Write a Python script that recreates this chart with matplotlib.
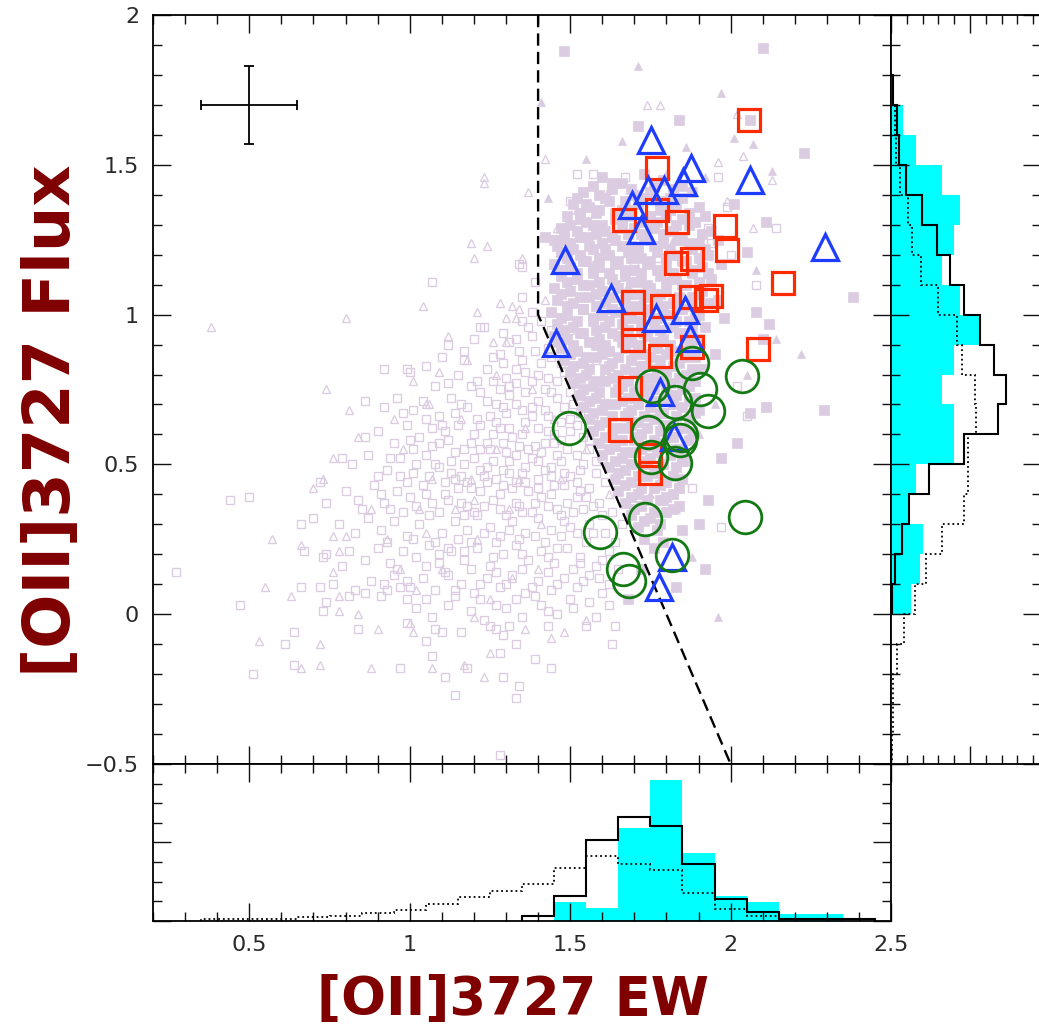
import numpy as np
import matplotlib
matplotlib.use("Agg")
import matplotlib.pyplot as plt
from matplotlib.ticker import MultipleLocator, FuncFormatter, NullFormatter

# === DATA ===
# background sample, open squares (EW, Flux)
open_sq = [
    (0.27, 0.14), (0.44, 0.38), (0.50, 0.39), (0.47, 0.03), (0.66, 0.09), (0.61, -0.10), (0.64, -0.06),
    (0.51, -0.20), (0.64, -0.17), (0.72, 0.44), (0.79, 0.52), (0.86, 0.71), (0.92, 0.82), (0.92, 0.69),
    (0.86, 0.59), (0.74, 0.37), (0.70, 0.32), (0.66, 0.30), (0.67, 0.21), (0.73, 0.19), (0.74, 0.20),
    (0.79, 0.16), (0.76, 0.10), (0.72, 0.09), (0.74, 0.04), (0.73, 0.01), (0.81, 0.06), (0.83, 0.08),
    (0.84, -0.05), (0.86, 0.07), (0.91, 0.06), (0.92, 0.10), (0.97, 0.09), (0.99, 0.11), (0.99, 0.05),
    (0.99, -0.03), (0.97, -0.18), (1.05, -0.09), (1.07, -0.14), (1.11, -0.21), (1.10, -0.06), (1.16, -0.06),
    (1.14, -0.27), (1.18, -0.18), (1.29, -0.21), (1.34, -0.24), (1.33, -0.28), (1.28, -0.13), (1.28, -0.47),
    (1.39, -0.15), (1.27, -0.05), (1.33, -0.10), (1.29, -0.07), (1.44, -0.18), (1.63, -0.10), (1.64, -0.04),
    (1.25, -0.04), (1.31, -0.04), (1.43, -0.04), (1.55, -0.04), (1.08, -0.05), (0.93, 0.08),
    (1.22, 0.96), (1.23, 0.96), (1.29, 0.94), (1.28, 0.87), (1.17, 0.85), (0.99, 0.82), (1.00, 0.81),
    (1.12, 0.77), (1.04, 0.71), (1.10, 0.63), (1.07, 1.11), (1.39, 1.11), (1.35, 1.06), (1.34, 1.17),
    (1.35, 1.16), (1.35, 0.98), (1.35, 0.85), (1.52, 1.47), (1.57, 1.47), (1.67, 1.46), (1.96, 1.46),
    (1.50, 1.38), (1.99, 1.36), (1.93, 1.29), (2.14, 1.29), (1.70, 1.18), (1.77, 1.19), (1.94, 1.24),
    (2.00, 1.20), (2.08, 1.10), (1.93, 1.11), (1.84, 0.42), (1.88, 0.42), (1.97, 0.29), (2.02, 0.76),
    (2.05, 0.66),
    (1.12, 0.90), (1.20, 0.92), (1.31, 0.91), (1.38, 0.93), (1.43, 0.89),
    (1.05, 0.83), (1.15, 0.80), (1.24, 0.82), (1.30, 0.79), (1.36, 0.81), (1.41, 0.84), (1.46, 0.78), (1.19, 0.76),
    (0.96, 0.72), (1.01, 0.68), (1.13, 0.72), (1.18, 0.69), (1.22, 0.74), (1.27, 0.70), (1.31, 0.73),
    (1.35, 0.68), (1.40, 0.71), (1.44, 0.74), (1.48, 0.69), (1.25, 0.66), (1.09, 0.66),
    (0.90, 0.61), (0.95, 0.57), (0.99, 0.63), (1.03, 0.59), (1.07, 0.62), (1.12, 0.58), (1.15, 0.63),
    (1.20, 0.60), (1.24, 0.57), (1.28, 0.62), (1.32, 0.59), (1.36, 0.64), (1.39, 0.56), (1.43, 0.61),
    (1.47, 0.58), (1.52, 0.63), (1.17, 0.55), (1.30, 0.54),
    (0.82, 0.50), (0.87, 0.53), (0.93, 0.48), (0.97, 0.52), (1.01, 0.47), (1.05, 0.53), (1.09, 0.49),
    (1.13, 0.51), (1.16, 0.46), (1.20, 0.52), (1.24, 0.49), (1.27, 0.45), (1.31, 0.51), (1.35, 0.47),
    (1.38, 0.52), (1.42, 0.48), (1.46, 0.53), (1.50, 0.46), (1.54, 0.50), (1.11, 0.44),
    (0.80, 0.41), (0.84, 0.38), (0.89, 0.43), (0.92, 0.37), (0.96, 0.41), (1.00, 0.39), (1.04, 0.43),
    (1.07, 0.37), (1.11, 0.40), (1.15, 0.42), (1.18, 0.36), (1.22, 0.41), (1.26, 0.38), (1.29, 0.43),
    (1.33, 0.37), (1.37, 0.41), (1.41, 0.39), (1.45, 0.43), (1.49, 0.37), (1.53, 0.41), (1.57, 0.36),
    (0.98, 0.34),
    (0.78, 0.30), (0.83, 0.27), (0.87, 0.32), (0.91, 0.28), (0.95, 0.31), (0.99, 0.26), (1.03, 0.30),
    (1.06, 0.33), (1.10, 0.27), (1.14, 0.31), (1.18, 0.28), (1.21, 0.33), (1.25, 0.29), (1.28, 0.26),
    (1.32, 0.31), (1.36, 0.27), (1.40, 0.32), (1.44, 0.28), (1.48, 0.31), (1.52, 0.27), (1.56, 0.30),
    (1.60, 0.33),
    (0.81, 0.21), (0.86, 0.18), (0.90, 0.22), (0.94, 0.17), (0.98, 0.21), (1.02, 0.19), (1.06, 0.23),
    (1.09, 0.17), (1.13, 0.21), (1.17, 0.18), (1.21, 0.22), (1.25, 0.16), (1.29, 0.20), (1.33, 0.23),
    (1.37, 0.18), (1.41, 0.21), (1.45, 0.17), (1.49, 0.22), (1.53, 0.19), (1.58, 0.16), (1.62, 0.21),
    (0.88, 0.11), (0.95, 0.13), (1.00, 0.09), (1.04, 0.12), (1.08, 0.08), (1.12, 0.13), (1.16, 0.10),
    (1.20, 0.07), (1.24, 0.12), (1.28, 0.09), (1.32, 0.13), (1.36, 0.07), (1.40, 0.11), (1.44, 0.08),
    (1.48, 0.12), (1.52, 0.09), (1.56, 0.13), (1.60, 0.07),
    (1.02, 0.02), (1.07, -0.01), (1.12, 0.03), (1.19, 0.01), (1.23, -0.02), (1.30, 0.02), (1.35, -0.01),
    (1.41, 0.03), (1.46, 0.00), (1.51, 0.02), (1.58, -0.01),
    (1.10, 0.86), (1.17, 0.88), (1.26, 0.86), (1.34, 0.88), (1.40, 0.80), (1.47, 0.84), (1.08, 0.76),
    (1.21, 0.78), (1.28, 0.75), (1.33, 0.77), (1.50, 0.74), (1.55, 0.70),
    (0.98, 0.67), (1.05, 0.65), (1.14, 0.67), (1.21, 0.65), (1.30, 0.67), (1.38, 0.66), (1.42, 0.68),
    (1.50, 0.65), (1.57, 0.66),
    (1.01, 0.55), (1.09, 0.57), (1.14, 0.54), (1.22, 0.55), (1.26, 0.60), (1.34, 0.56), (1.41, 0.54),
    (1.45, 0.57), (1.49, 0.55), (1.56, 0.58), (1.60, 0.52),
    (0.90, 0.46), (0.99, 0.44), (1.06, 0.46), (1.13, 0.47), (1.18, 0.44), (1.23, 0.46), (1.29, 0.48),
    (1.33, 0.44), (1.40, 0.45), (1.44, 0.46), (1.52, 0.44), (1.58, 0.47),
    (0.85, 0.35), (0.94, 0.35), (1.02, 0.36), (1.09, 0.34), (1.16, 0.37), (1.20, 0.34), (1.28, 0.35),
    (1.35, 0.34), (1.39, 0.37), (1.46, 0.35), (1.51, 0.34), (1.55, 0.39),
    (0.93, 0.24), (1.01, 0.25), (1.08, 0.24), (1.15, 0.25), (1.19, 0.24), (1.27, 0.24), (1.34, 0.25),
    (1.42, 0.24), (1.47, 0.26), (1.55, 0.24), (1.61, 0.27),
    (0.96, 0.15), (1.05, 0.16), (1.11, 0.14), (1.19, 0.15), (1.27, 0.14), (1.35, 0.15), (1.43, 0.14),
    (1.51, 0.15), (1.59, 0.12),
    (1.05, 0.05), (1.14, 0.06), (1.22, 0.05), (1.33, 0.05), (1.39, 0.06), (1.50, 0.05), (1.56, 0.04),
]

# denser part of the open-square cloud, left of the cut
open_sq_core = [
    (1.37, 0.96), (1.41, 0.98), (1.33, 0.92), (1.39, 0.88), (1.44, 0.86), (1.29, 0.84), (1.33, 0.82),
    (1.38, 0.78), (1.43, 0.79), (1.48, 0.81), (1.26, 0.78), (1.31, 0.76), (1.36, 0.74), (1.42, 0.75),
    (1.46, 0.72), (1.51, 0.70), (1.24, 0.71), (1.29, 0.69), (1.33, 0.70), (1.38, 0.69), (1.43, 0.66),
    (1.47, 0.64), (1.53, 0.67), (1.22, 0.63), (1.27, 0.64), (1.31, 0.62), (1.35, 0.60), (1.40, 0.62),
    (1.45, 0.60), (1.50, 0.61), (1.54, 0.59), (1.19, 0.57), (1.25, 0.55), (1.29, 0.57), (1.33, 0.53),
    (1.37, 0.55), (1.42, 0.57), (1.47, 0.51), (1.52, 0.53), (1.56, 0.55), (1.17, 0.50), (1.22, 0.48),
    (1.26, 0.51), (1.31, 0.47), (1.36, 0.49), (1.40, 0.51), (1.44, 0.49), (1.48, 0.47), (1.53, 0.48),
    (1.58, 0.51), (1.14, 0.45), (1.19, 0.42), (1.24, 0.44), (1.28, 0.40), (1.32, 0.42), (1.36, 0.44),
    (1.40, 0.42), (1.44, 0.40), (1.48, 0.43), (1.52, 0.39), (1.56, 0.42), (1.61, 0.44), (1.12, 0.38),
    (1.17, 0.33), (1.23, 0.36), (1.30, 0.33), (1.34, 0.36), (1.38, 0.34), (1.43, 0.36), (1.47, 0.33),
    (1.54, 0.35), (1.59, 0.37), (1.63, 0.34), (1.05, 0.40), (1.02, 0.50), (1.07, 0.56), (1.11, 0.61),
    (1.16, 0.70), (1.08, 0.50), (1.00, 0.58), (0.94, 0.52), (0.97, 0.46), (0.91, 0.40), (1.12, 0.22),
    (1.23, 0.27), (1.31, 0.28), (1.39, 0.26), (1.46, 0.22), (1.50, 0.29), (1.57, 0.27), (1.64, 0.24),
    (1.66, 0.30), (1.35, 0.20), (1.26, 0.19), (1.17, 0.21), (1.09, 0.20), (1.43, 0.19), (1.53, 0.17),
    (1.60, 0.18), (1.65, 0.15), (1.30, 0.10), (1.38, 0.09), (1.46, 0.10), (1.54, 0.11), (1.62, 0.10),
    (1.22, 0.10), (1.14, 0.08), (1.27, 0.03), (1.43, 0.01), (1.62, 0.03), (1.38, 1.01), (1.44, 0.95),
    (1.47, 0.91),
]

# background sample, open triangles
open_tri = [
    (0.38, 0.96), (0.57, 0.25), (0.55, 0.09), (0.63, 0.06), (0.53, -0.09), (0.66, -0.18), (0.72, -0.17),
    (0.72, -0.10), (0.74, 0.75), (0.80, 0.99), (0.81, 0.68), (0.95, 0.65), (0.84, 0.59), (0.76, 0.52),
    (0.70, 0.42), (0.73, 0.45), (0.66, 0.23), (0.76, 0.26), (0.80, 0.26), (0.78, 0.21), (0.76, 0.14),
    (0.78, 0.06), (0.78, 0.01), (0.84, 0.00), (0.90, -0.05), (1.02, 0.08), (1.01, -0.06), (0.88, -0.18),
    (1.07, -0.18), (1.20, -0.01), (1.23, -0.21), (1.17, -0.17), (1.25, -0.13), (1.36, -0.05), (1.44, -0.08),
    (1.48, -0.06), (1.55, -0.02), (1.00, -0.03),
    (1.04, 1.03), (1.21, 1.01), (1.26, 0.91), (1.30, 0.91), (1.18, 0.85), (1.01, 0.78), (1.09, 0.81),
    (1.05, 0.70), (1.06, 0.70), (1.23, 1.46), (1.23, 1.44), (1.37, 1.41), (1.19, 1.24), (1.24, 1.23),
    (1.20, 1.19), (1.35, 1.19), (1.28, 1.04), (1.32, 1.03), (1.34, 1.02), (1.30, 0.99), (1.33, 0.99),
    (1.42, 1.52), (1.74, 1.70), (1.78, 1.70), (2.02, 1.67), (2.04, 1.53), (1.96, 1.51), (2.13, 1.45),
    (1.99, 1.38), (1.46, 1.29), (1.56, 1.26), (2.07, 1.29), (1.52, 1.35),
    (0.98, 0.55), (1.07, 0.45), (1.14, 0.35), (1.21, 0.25), (1.27, 0.55), (1.34, 0.45), (1.40, 0.15),
    (0.93, 0.25), (1.10, 0.15), (1.31, 0.35), (1.45, 0.65), (1.38, 0.75), (1.16, 0.65), (1.03, 0.35),
    (0.88, 0.35), (1.25, 0.05), (1.47, 0.45), (1.55, 0.55), (1.58, 0.85), (1.50, 0.95), (0.97, 0.15),
    (1.19, 0.45), (1.60, 0.72), (1.62, 0.40), (1.42, 1.05), (1.48, 1.15), (1.54, 1.20),
    (1.12, 0.93), (1.27, 0.80), (1.36, 0.62), (1.20, 0.38), (1.05, 0.27), (1.41, 0.30), (1.32, 0.12),
]

# selected sample (filled squares), outer points
sel_sq = [
    (1.48, 1.88), (2.10, 1.89), (1.84, 1.65), (1.71, 1.63), (2.06, 1.65), (2.23, 1.54), (1.55, 1.37),
    (2.01, 1.37), (2.11, 1.31), (1.42, 1.26), (1.47, 1.25), (2.38, 1.06), (2.08, 1.01), (2.12, 0.97),
    (2.10, 0.92), (2.11, 0.69), (2.06, 0.67), (2.29, 0.68), (1.97, 0.52), (1.93, 0.38), (1.85, 0.28),
    (1.79, 0.38), (1.79, 0.44), (1.83, 0.09), (2.05, 1.21), (1.98, 0.99), (1.95, 0.87), (2.02, 0.57),
    (1.90, 0.30), (1.72, 0.15), (1.68, 0.05), (1.76, 0.22), (1.96, 1.05), (1.92, 0.15),
]

# selected sample (filled squares), dense core
sel_sq_core = [
    (1.60, 1.46), (1.66, 1.44), (1.73, 1.47), (1.79, 1.45), (1.85, 1.43),
    (1.54, 1.41), (1.59, 1.40), (1.63, 1.42), (1.70, 1.40), (1.75, 1.41), (1.81, 1.39), (1.88, 1.41),
    (1.51, 1.37), (1.56, 1.36), (1.62, 1.38), (1.66, 1.35), (1.71, 1.37), (1.78, 1.35), (1.83, 1.37), (1.90, 1.36),
    (1.49, 1.33), (1.53, 1.32), (1.58, 1.34), (1.64, 1.32), (1.68, 1.33), (1.73, 1.31), (1.80, 1.33),
    (1.85, 1.32), (1.92, 1.33),
    (1.47, 1.29), (1.52, 1.28), (1.57, 1.30), (1.61, 1.28), (1.66, 1.29), (1.72, 1.27), (1.76, 1.29),
    (1.82, 1.28), (1.87, 1.30), (1.94, 1.28),
    (1.45, 1.25), (1.50, 1.24), (1.55, 1.26), (1.60, 1.24), (1.64, 1.25), (1.69, 1.23), (1.74, 1.25),
    (1.79, 1.24), (1.85, 1.26), (1.90, 1.24), (1.96, 1.25),
    (1.47, 1.21), (1.53, 1.20), (1.57, 1.22), (1.62, 1.20), (1.68, 1.21), (1.72, 1.19), (1.77, 1.21),
    (1.83, 1.20), (1.88, 1.22), (1.93, 1.20),
    (1.45, 1.17), (1.50, 1.16), (1.55, 1.18), (1.59, 1.16), (1.64, 1.17), (1.70, 1.15), (1.74, 1.17),
    (1.80, 1.16), (1.85, 1.18), (1.91, 1.16), (1.97, 1.17),
    (1.47, 1.13), (1.52, 1.12), (1.57, 1.14), (1.63, 1.12), (1.67, 1.13), (1.72, 1.11), (1.78, 1.13),
    (1.83, 1.12), (1.88, 1.14), (1.94, 1.12),
    (1.45, 1.09), (1.50, 1.08), (1.56, 1.10), (1.60, 1.08), (1.65, 1.09), (1.71, 1.07), (1.75, 1.09),
    (1.80, 1.08), (1.86, 1.10), (1.91, 1.08),
    (1.46, 1.05), (1.51, 1.04), (1.56, 1.06), (1.61, 1.04), (1.67, 1.05), (1.71, 1.03), (1.77, 1.05),
    (1.82, 1.04), (1.88, 1.06), (1.93, 1.04),
    (1.44, 1.01), (1.49, 1.00), (1.54, 1.02), (1.60, 1.00), (1.64, 1.01), (1.69, 0.99), (1.74, 1.01),
    (1.80, 1.00), (1.85, 1.02), (1.90, 1.00),
    (1.46, 0.97), (1.51, 0.96), (1.57, 0.98), (1.61, 0.96), (1.66, 0.97), (1.72, 0.95), (1.76, 0.97),
    (1.82, 0.96), (1.87, 0.98), (1.92, 0.96),
    (1.45, 0.93), (1.49, 0.92), (1.54, 0.94), (1.59, 0.92), (1.65, 0.93), (1.69, 0.91), (1.74, 0.93),
    (1.79, 0.92), (1.85, 0.94), (1.90, 0.92),
    (1.47, 0.89), (1.52, 0.88), (1.58, 0.90), (1.62, 0.88), (1.67, 0.89), (1.73, 0.87), (1.77, 0.89),
    (1.83, 0.88), (1.88, 0.90),
    (1.48, 0.85), (1.54, 0.84), (1.58, 0.86), (1.63, 0.84), (1.69, 0.85), (1.73, 0.83), (1.78, 0.85),
    (1.84, 0.84), (1.89, 0.86),
    (1.50, 0.81), (1.55, 0.80), (1.61, 0.82), (1.65, 0.80), (1.70, 0.81), (1.76, 0.79), (1.80, 0.81),
    (1.86, 0.80), (1.91, 0.82),
    (1.51, 0.77), (1.57, 0.76), (1.61, 0.78), (1.66, 0.76), (1.72, 0.77), (1.76, 0.75), (1.81, 0.77),
    (1.87, 0.76),
    (1.53, 0.73), (1.58, 0.72), (1.64, 0.74), (1.68, 0.72), (1.73, 0.73), (1.79, 0.71), (1.83, 0.73),
    (1.89, 0.72),
    (1.54, 0.69), (1.60, 0.68), (1.64, 0.70), (1.69, 0.68), (1.75, 0.69), (1.79, 0.67), (1.85, 0.69),
    (1.90, 0.68),
    (1.56, 0.65), (1.61, 0.64), (1.67, 0.66), (1.71, 0.64), (1.76, 0.65), (1.82, 0.63), (1.87, 0.65),
    (1.57, 0.61), (1.63, 0.60), (1.67, 0.62), (1.72, 0.60), (1.78, 0.61), (1.82, 0.59), (1.88, 0.61),
    (1.59, 0.57), (1.64, 0.56), (1.70, 0.58), (1.74, 0.56), (1.79, 0.57), (1.85, 0.55),
    (1.60, 0.53), (1.66, 0.52), (1.70, 0.54), (1.75, 0.52), (1.81, 0.53), (1.86, 0.51),
    (1.62, 0.49), (1.67, 0.48), (1.73, 0.50), (1.77, 0.48), (1.83, 0.49),
    (1.64, 0.45), (1.69, 0.44), (1.74, 0.46), (1.80, 0.44), (1.85, 0.45),
    (1.65, 0.41), (1.71, 0.40), (1.76, 0.42), (1.82, 0.40),
    (1.67, 0.37), (1.72, 0.36), (1.78, 0.38), (1.84, 0.36),
    (1.69, 0.33), (1.75, 0.32), (1.80, 0.34),
    (1.71, 0.29), (1.77, 0.28), (1.73, 0.25), (1.79, 0.24),
    # second layer, between the rows above
    (1.57, 1.43), (1.63, 1.44), (1.69, 1.42), (1.76, 1.43), (1.82, 1.42),
    (1.52, 1.39), (1.61, 1.39), (1.67, 1.38), (1.72, 1.39), (1.78, 1.38), (1.85, 1.39),
    (1.53, 1.34), (1.59, 1.35), (1.64, 1.34), (1.69, 1.35), (1.75, 1.33), (1.81, 1.35), (1.87, 1.34),
    (1.50, 1.30), (1.55, 1.31), (1.60, 1.30), (1.66, 1.31), (1.70, 1.29), (1.77, 1.31), (1.83, 1.30), (1.89, 1.31),
    (1.48, 1.27), (1.53, 1.26), (1.58, 1.27), (1.63, 1.26), (1.68, 1.27), (1.73, 1.26), (1.79, 1.27),
    (1.84, 1.25), (1.91, 1.27),
    (1.46, 1.23), (1.51, 1.22), (1.56, 1.23), (1.61, 1.22), (1.66, 1.23), (1.71, 1.22), (1.76, 1.23),
    (1.81, 1.22), (1.87, 1.24), (1.92, 1.22),
    (1.49, 1.19), (1.54, 1.18), (1.59, 1.19), (1.65, 1.18), (1.69, 1.19), (1.75, 1.18), (1.80, 1.19),
    (1.86, 1.18), (1.90, 1.19),
    (1.47, 1.15), (1.52, 1.14), (1.57, 1.15), (1.62, 1.14), (1.67, 1.15), (1.72, 1.14), (1.77, 1.15),
    (1.82, 1.14), (1.88, 1.15), (1.93, 1.14),
    (1.49, 1.11), (1.54, 1.10), (1.59, 1.11), (1.64, 1.10), (1.69, 1.11), (1.74, 1.10), (1.80, 1.11),
    (1.85, 1.10), (1.90, 1.11),
    (1.47, 1.07), (1.53, 1.06), (1.58, 1.07), (1.63, 1.06), (1.68, 1.07), (1.73, 1.06), (1.78, 1.07),
    (1.84, 1.06), (1.90, 1.07),
    (1.49, 1.03), (1.54, 1.02), (1.58, 1.03), (1.63, 1.02), (1.68, 1.03), (1.74, 1.02), (1.79, 1.03),
    (1.84, 1.02), (1.88, 1.03),
    (1.47, 0.99), (1.52, 0.98), (1.57, 0.99), (1.62, 0.98), (1.67, 0.99), (1.72, 0.98), (1.77, 0.99),
    (1.83, 0.98), (1.89, 0.99),
    (1.48, 0.95), (1.53, 0.94), (1.58, 0.95), (1.63, 0.94), (1.68, 0.95), (1.73, 0.94), (1.78, 0.95),
    (1.84, 0.94), (1.88, 0.95),
    (1.46, 0.91), (1.51, 0.90), (1.56, 0.91), (1.61, 0.90), (1.66, 0.91), (1.71, 0.90), (1.76, 0.91),
    (1.81, 0.90), (1.87, 0.91),
    (1.50, 0.87), (1.55, 0.86), (1.60, 0.87), (1.65, 0.86), (1.70, 0.87), (1.75, 0.86), (1.80, 0.87), (1.86, 0.86),
    (1.51, 0.83), (1.56, 0.82), (1.62, 0.83), (1.67, 0.82), (1.72, 0.83), (1.77, 0.82), (1.82, 0.83), (1.88, 0.82),
    (1.53, 0.79), (1.58, 0.78), (1.63, 0.79), (1.68, 0.78), (1.73, 0.79), (1.78, 0.78), (1.84, 0.79), (1.89, 0.78),
    (1.54, 0.75), (1.59, 0.74), (1.65, 0.75), (1.70, 0.74), (1.74, 0.75), (1.80, 0.74), (1.85, 0.75),
    (1.56, 0.71), (1.61, 0.70), (1.66, 0.71), (1.71, 0.70), (1.77, 0.71), (1.82, 0.70), (1.87, 0.71),
    (1.57, 0.67), (1.63, 0.66), (1.68, 0.67), (1.73, 0.66), (1.78, 0.67), (1.83, 0.66), (1.89, 0.67),
    (1.59, 0.63), (1.64, 0.62), (1.69, 0.63), (1.74, 0.62), (1.79, 0.63), (1.85, 0.62),
    (1.61, 0.59), (1.66, 0.58), (1.71, 0.59), (1.76, 0.58), (1.81, 0.59), (1.87, 0.58),
    (1.62, 0.55), (1.67, 0.54), (1.72, 0.55), (1.77, 0.54), (1.83, 0.55),
    (1.64, 0.51), (1.69, 0.50), (1.74, 0.51), (1.79, 0.50), (1.85, 0.51),
    (1.65, 0.47), (1.71, 0.46), (1.76, 0.47), (1.82, 0.46),
    (1.67, 0.43), (1.72, 0.42), (1.78, 0.43), (1.84, 0.42),
    (1.69, 0.39), (1.74, 0.38), (1.80, 0.39),
    (1.70, 0.35), (1.76, 0.34), (1.82, 0.35),
    (1.73, 0.31), (1.78, 0.30),
]

# selected sample (filled triangles)
sel_tri = [
    (1.71, 1.83), (1.97, 1.74), (1.41, 1.71), (1.66, 1.58), (1.86, 1.56), (2.01, 1.59), (2.07, 1.57),
    (2.13, 1.48), (1.92, 1.46), (1.43, 1.39), (2.08, 1.15), (2.14, 0.92), (1.83, 0.35), (1.96, -0.01),
    (1.80, 1.47), (1.62, 1.42), (1.72, 0.95), (1.60, 0.80), (1.82, 1.25), (1.68, 1.10), (1.90, 0.60),
    (1.75, 0.40), (2.22, 0.87), (1.55, 1.52), (2.05, 0.80), (1.95, 0.70), (1.88, 0.19), (1.57, 1.17),
    (1.78, 0.68), (1.66, 0.52),
]

# highlighted objects
red_sq = [
    (2.056, 1.650), (1.770, 1.488), (1.772, 1.349), (1.667, 1.316), (1.833, 1.310), (1.981, 1.296),
    (1.989, 1.216), (2.164, 1.104), (1.830, 1.171), (1.881, 1.185), (1.696, 1.043), (1.785, 1.030),
    (1.875, 1.058), (1.922, 1.049), (1.938, 1.062), (1.697, 0.968), (1.696, 0.915), (1.779, 0.862),
    (2.086, 0.884), (1.880, 0.893), (1.685, 0.754), (1.654, 0.615), (1.748, 0.530), (1.748, 0.470),
]
blue_tri = [
    (1.753, 1.583), (1.878, 1.488), (2.060, 1.449), (1.852, 1.444), (1.792, 1.416), (1.743, 1.416),
    (1.694, 1.366), (1.720, 1.282), (1.485, 1.182), (2.294, 1.227), (1.628, 1.054), (1.857, 1.015),
    (1.769, 0.988), (1.873, 0.921), (1.457, 0.904), (1.779, 0.743), (1.824, 0.593), (1.816, 0.192),
    (1.776, 0.092),
]
green_circ = [
    (1.881, 0.839), (2.034, 0.795), (1.756, 0.762), (1.904, 0.751), (1.826, 0.709), (1.931, 0.678),
    (1.495, 0.622), (1.743, 0.607), (1.846, 0.598), (1.842, 0.581), (1.753, 0.526), (1.828, 0.506),
    (2.045, 0.325), (1.734, 0.318), (1.592, 0.275), (1.818, 0.198), (1.665, 0.150), (1.684, 0.111),
]

# selection boundary and typical error
cut_x = [1.4, 1.4, 2.0]
cut_y = [2.0, 1.0, -0.5]
err_pos = (0.5, 1.70)
err_size = (0.15, 0.13)

# EW histograms (fractions), bin width 0.1
ew_sel_start, ew_sel = 1.45, [0.048, 0.032, 0.236, 0.359, 0.172, 0.064, 0.048, 0.019, 0.017]
ew_cut_start, ew_cut = 1.35, [0.014, 0.064, 0.206, 0.264, 0.243, 0.146, 0.057, 0.023, 0.006, 0.006, 0.004]
ew_all_start, ew_all = 0.35, [0.004, 0.005, 0.006, 0.010, 0.013, 0.021, 0.027, 0.043, 0.060, 0.076,
                              0.095, 0.134, 0.165, 0.146, 0.129, 0.071, 0.031, 0.013, 0.006]

# Flux histograms (fractions), bin width 0.1
fx_sel_start, fx_sel = 0.0, [0.025, 0.037, 0.040, 0.023, 0.032, 0.080, 0.080, 0.064, 0.080, 0.112,
                             0.087, 0.064, 0.080, 0.087, 0.064, 0.031, 0.015]
fx_cut_start, fx_cut = 0.0, [0.001, 0.005, 0.014, 0.023, 0.048, 0.092, 0.135, 0.146, 0.130, 0.113,
                             0.092, 0.075, 0.058, 0.039, 0.019, 0.010, 0.007, 0.003]
fx_all_start, fx_all = -0.5, [0.001, 0.002, 0.003, 0.008, 0.017, 0.030, 0.044, 0.065, 0.092, 0.098,
                              0.097, 0.108, 0.106, 0.090, 0.083, 0.059, 0.038, 0.027, 0.021, 0.011,
                              0.006, 0.005, 0.002]

BIN = 0.1
LAV = "#dccce2"
DARKRED = "#800000"


def edges(start, vals):
    return start + BIN * np.arange(len(vals) + 1)


def xy(pts):
    a = np.array(pts)
    return a[:, 0], a[:, 1]


def style(ax, xmaj, xmin, ymaj, ymin):
    ax.xaxis.set_major_locator(MultipleLocator(xmaj))
    ax.xaxis.set_minor_locator(MultipleLocator(xmin))
    ax.yaxis.set_major_locator(MultipleLocator(ymaj))
    ax.yaxis.set_minor_locator(MultipleLocator(ymin))
    ax.tick_params(which="both", direction="in", top=True, right=True, width=1.0,
                   colors="#111111", labelsize=16, labelcolor="#2a2a2a")
    ax.tick_params(which="major", length=13)
    ax.tick_params(which="minor", length=6.5)
    for s in ax.spines.values():
        s.set_linewidth(1.3)


fmt = FuncFormatter(lambda v, p: ("%g" % round(v, 3)).replace("-", "\u2212"))

fig = plt.figure(figsize=(10.39, 10.27), dpi=100)
ax = fig.add_axes([0.1473, 0.2561, 0.7103, 0.7293])
axb = fig.add_axes([0.1473, 0.1032, 0.7103, 0.1529])
axr = fig.add_axes([0.8576, 0.2561, 0.1444, 0.7293])

# === main scatter ===
x, y = xy(open_sq + open_sq_core)
ax.plot(x, y, ls="none", marker="s", ms=5.4, mfc="none", mec=LAV, mew=0.95, zorder=1)
x, y = xy(open_tri)
ax.plot(x, y, ls="none", marker="^", ms=5.8, mfc="none", mec=LAV, mew=0.95, zorder=1)
x, y = xy(sel_sq + sel_sq_core)
ax.plot(x, y, ls="none", marker="s", ms=7, mfc=LAV, mec=LAV, mew=0.5, zorder=1)
x, y = xy(sel_tri)
ax.plot(x, y, ls="none", marker="^", ms=6.3, mfc=LAV, mec=LAV, mew=0.5, zorder=1)

ax.plot(cut_x, cut_y, color="k", lw=1.7, ls="--", dashes=(5.2, 2.6), zorder=2)

x, y = xy(red_sq)
ax.plot(x, y, ls="none", marker="s", ms=16, mfc="none", mec="#ff2a00", mew=2.3, zorder=3)
x, y = xy(blue_tri)
ax.plot(x, y, ls="none", marker="^", ms=19, mfc="none", mec="#1e3cff", mew=2.3, zorder=4)
x, y = xy(green_circ)
ax.plot(x, y, ls="none", marker="o", ms=23.5, mfc="none", mec="#137a13", mew=2.0, zorder=5)

ax.errorbar([err_pos[0]], [err_pos[1]], xerr=[err_size[0]], yerr=[err_size[1]], fmt="none",
            ecolor="k", elinewidth=1.3, capsize=3.5, capthick=1.3, zorder=6)

ax.set_xlim(0.2, 2.5)
ax.set_ylim(-0.5, 2.0)
style(ax, 0.5, 0.1, 0.5, 0.1)
ax.xaxis.set_major_formatter(NullFormatter())
ax.yaxis.set_major_formatter(fmt)
ax.tick_params(axis="y", pad=10)

# === bottom histogram (EW) ===
axb.stairs(ew_sel, edges(ew_sel_start, ew_sel), fill=True, color="cyan", lw=0, zorder=1)
axb.stairs(ew_all, edges(ew_all_start, ew_all), color="k", lw=1.3, ls=":", zorder=2)
axb.stairs(ew_cut, edges(ew_cut_start, ew_cut), color="k", lw=1.5, zorder=3)
axb.set_xlim(0.2, 2.5)
axb.set_ylim(0, 0.4)
style(axb, 0.5, 0.1, 0.2, 0.05)
axb.xaxis.set_major_formatter(fmt)
axb.yaxis.set_major_formatter(NullFormatter())
axb.tick_params(axis="x", pad=10)

# === right histogram (Flux) ===
axr.stairs(fx_sel, edges(fx_sel_start, fx_sel), orientation="horizontal", fill=True,
           color="cyan", lw=0, zorder=1)
axr.stairs(fx_all, edges(fx_all_start, fx_all), orientation="horizontal", color="k",
           lw=1.3, ls=":", zorder=2)
axr.stairs(fx_cut, edges(fx_cut_start, fx_cut), orientation="horizontal", color="k",
           lw=1.5, zorder=3)
axr.set_ylim(-0.5, 2.0)
axr.set_xlim(0, 0.19)
style(axr, 0.1, 0.02, 0.5, 0.1)
axr.xaxis.set_major_formatter(NullFormatter())
axr.yaxis.set_major_formatter(NullFormatter())

# === axis titles ===
fig.text(0.4937, 0.0263, "[OII]3727 EW", color=DARKRED, fontsize=38, fontweight="bold",
         ha="center", va="center", family="DejaVu Sans")
fig.text(0.050, 0.590, "[OII]3727 Flux", color=DARKRED, fontsize=46, fontweight="bold",
         ha="center", va="center", rotation=90, family="DejaVu Sans")

fig.savefig("out.png", dpi=100)
